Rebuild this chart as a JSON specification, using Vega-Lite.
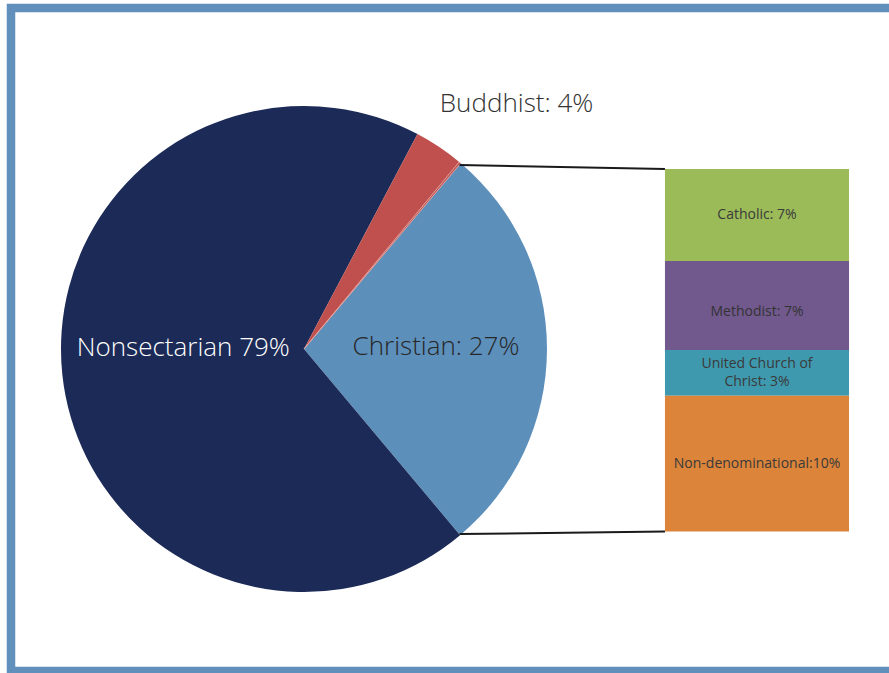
{
  "$schema": "https://vega.github.io/schema/vega-lite/v6.json",
  "width": 890,
  "height": 663,
  "autosize": {"type": "none"},
  "padding": {"left": 11, "top": 8, "right": 0, "bottom": 2},
  "background": "white",
  "config": {
    "view": {"stroke": "#6090bb", "strokeWidth": 8.5},
    "font": "Open Sans",
    "text": {"font": "Open Sans"}
  },
  "datasets": {
    "religion": [
      {"group": "Christian", "share": 27.74, "rank": 1, "label": "Christian: 27%"},
      {"group": "Nonsectarian", "share": 68.84, "rank": 2, "label": "Nonsectarian 79%"},
      {"group": "Buddhist", "share": 3.29, "rank": 3, "label": "Buddhist: 4%"},
      {"group": "Other", "share": 0.13, "rank": 4, "label": ""}
    ],
    "christian": [
      {"denomination": "Catholic", "share": 6.85, "rank": 1, "label": "Catholic: 7%"},
      {"denomination": "Methodist", "share": 6.63, "rank": 2, "label": "Methodist: 7%"},
      {"denomination": "United Church of Christ", "share": 3.4, "rank": 3, "label": "United Church of\nChrist: 3%"},
      {"denomination": "Non-denominational", "share": 10.12, "rank": 4, "label": "Non-denominational:10%"}
    ],
    "connectors": [
      {"edge": "top", "slice_edge": -0.3, "stack_edge": 0},
      {"edge": "bottom", "slice_edge": 27.18, "stack_edge": 27}
    ]
  },
  "layer": [
    {
      "data": {"name": "religion"},
      "mark": {"type": "arc", "radius": 243, "strokeWidth": 0.8},
      "encoding": {
        "theta": {"field": "share", "type": "quantitative", "stack": true, "scale": {"range": [0.7009, 6.9841]}},
        "order": {"field": "rank", "type": "quantitative"},
        "color": {
          "field": "group", "type": "nominal", "legend": null,
          "scale": {
            "domain": ["Christian", "Nonsectarian", "Buddhist", "Other", "Catholic", "Methodist", "United Church of Christ", "Non-denominational"],
            "range": ["#5d8fbb", "#1c2a57", "#c0504d", "#c0504d", "#9bbb59", "#71598e", "#3f99ae", "#dc843a"]
          }
        },
        "stroke": {"condition": {"test": "datum.group === 'Other'", "value": "#e6a4a1"}, "value": null},
        "x": {"datum": 32.92, "type": "quantitative", "scale": {"domain": [0, 100], "zero": false, "nice": false}, "axis": null},
        "y": {"datum": 13.4, "type": "quantitative", "scale": {"domain": [-11.99, 37.38], "reverse": true, "zero": false, "nice": false}, "axis": null}
      }
    },
    {
      "data": {"name": "religion"},
      "mark": {"type": "text", "radius": 121.4, "dy": -14, "fill": "#ffffff", "fontSize": 26, "fontWeight": 300, "align": "center", "baseline": "middle"},
      "encoding": {
        "theta": {"field": "share", "type": "quantitative", "stack": true},
        "order": {"field": "rank", "type": "quantitative"},
        "text": {"condition": {"test": "datum.group === 'Nonsectarian'", "field": "label"}, "value": ""},
        "x": {"datum": 32.92, "type": "quantitative", "scale": {"domain": [0, 100], "zero": false, "nice": false}, "axis": null},
        "y": {"datum": 13.4, "type": "quantitative", "scale": {"domain": [-11.99, 37.38], "reverse": true, "zero": false, "nice": false}, "axis": null}
      }
    },
    {
      "data": {"name": "religion"},
      "mark": {"type": "text", "radius": 132, "dy": -2, "fill": "#262626", "fontSize": 26, "fontWeight": 300, "align": "center", "baseline": "middle"},
      "encoding": {
        "theta": {"field": "share", "type": "quantitative", "stack": true},
        "order": {"field": "rank", "type": "quantitative"},
        "text": {"condition": {"test": "datum.group === 'Christian'", "field": "label"}, "value": ""},
        "x": {"datum": 32.92, "type": "quantitative", "scale": {"domain": [0, 100], "zero": false, "nice": false}, "axis": null},
        "y": {"datum": 13.4, "type": "quantitative", "scale": {"domain": [-11.99, 37.38], "reverse": true, "zero": false, "nice": false}, "axis": null}
      }
    },
    {
      "data": {"name": "religion"},
      "mark": {"type": "text", "radius": 296, "dx": 48, "dy": 1, "fill": "#333333", "fontSize": 26, "fontWeight": 300, "align": "center", "baseline": "middle"},
      "encoding": {
        "theta": {"field": "share", "type": "quantitative", "stack": true},
        "order": {"field": "rank", "type": "quantitative"},
        "text": {"condition": {"test": "datum.group === 'Buddhist'", "field": "label"}, "value": ""},
        "x": {"datum": 32.92, "type": "quantitative", "scale": {"domain": [0, 100], "zero": false, "nice": false}, "axis": null},
        "y": {"datum": 13.4, "type": "quantitative", "scale": {"domain": [-11.99, 37.38], "reverse": true, "zero": false, "nice": false}, "axis": null}
      }
    },
    {
      "data": {"name": "connectors"},
      "mark": {"type": "rule", "stroke": "#1a1a1a", "strokeWidth": 2},
      "encoding": {
        "x": {"datum": 50.4, "type": "quantitative", "scale": {"domain": [0, 100], "zero": false, "nice": false}, "axis": null},
        "x2": {"datum": 73.48},
        "y": {"field": "slice_edge", "type": "quantitative", "scale": {"domain": [-11.99, 37.38], "reverse": true, "zero": false, "nice": false}, "axis": null},
        "y2": {"field": "stack_edge"}
      }
    },
    {
      "data": {"name": "christian"},
      "transform": [
        {"stack": "share", "groupby": [], "sort": [{"field": "rank", "order": "ascending"}], "as": ["stack_start", "stack_end"]},
        {"calculate": "(datum.stack_start + datum.stack_end) / 2", "as": "stack_mid"}
      ],
      "layer": [
        {
          "mark": {"type": "rect"},
          "encoding": {
            "x": {"datum": 73.48, "type": "quantitative", "scale": {"domain": [0, 100], "zero": false, "nice": false}, "axis": null},
            "x2": {"datum": 94.16},
            "y": {"field": "stack_start", "type": "quantitative", "scale": {"domain": [-11.99, 37.38], "reverse": true, "zero": false, "nice": false}, "axis": null},
            "y2": {"field": "stack_end"},
            "color": {"field": "denomination", "type": "nominal", "legend": null}
          }
        },
        {
          "transform": [{"filter": "datum.rank === 1 || datum.rank === 4"}],
          "mark": {"type": "text", "fill": "#3a3a3a", "fontSize": 14, "fontWeight": 400, "align": "center", "baseline": "middle"},
          "encoding": {
            "x": {"datum": 83.82, "type": "quantitative", "scale": {"domain": [0, 100], "zero": false, "nice": false}, "axis": null},
            "y": {"field": "stack_mid", "type": "quantitative", "scale": {"domain": [-11.99, 37.38], "reverse": true, "zero": false, "nice": false}, "axis": null},
            "text": {"field": "label"}
          }
        },
        {
          "transform": [{"filter": "datum.rank === 2"}],
          "mark": {"type": "text", "fill": "#333333", "fontSize": 14, "fontWeight": 400, "align": "center", "baseline": "middle", "dy": 6},
          "encoding": {
            "x": {"datum": 83.82, "type": "quantitative", "scale": {"domain": [0, 100], "zero": false, "nice": false}, "axis": null},
            "y": {"field": "stack_mid", "type": "quantitative", "scale": {"domain": [-11.99, 37.38], "reverse": true, "zero": false, "nice": false}, "axis": null},
            "text": {"field": "label"}
          }
        },
        {
          "transform": [{"filter": "datum.rank === 3"}],
          "mark": {"type": "text", "fill": "#3a3a3a", "fontSize": 14, "fontWeight": 400, "align": "center", "baseline": "middle", "lineBreak": "\n", "lineHeight": 17.4, "dy": -8.7},
          "encoding": {
            "x": {"datum": 83.82, "type": "quantitative", "scale": {"domain": [0, 100], "zero": false, "nice": false}, "axis": null},
            "y": {"field": "stack_mid", "type": "quantitative", "scale": {"domain": [-11.99, 37.38], "reverse": true, "zero": false, "nice": false}, "axis": null},
            "text": {"field": "label"}
          }
        }
      ]
    }
  ]
}
